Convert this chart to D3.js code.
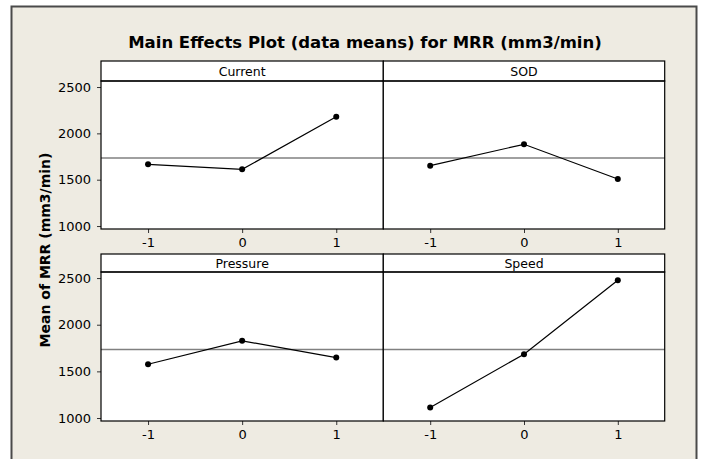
<!DOCTYPE html>
<html>
<head>
<meta charset="UTF-8">
<script src="https://cdn.jsdelivr.net/npm/d3@7"></script>
<style>
	body{ margin: 0; background: #fff; }
	svg{ display: block; }
	text{ font-family: "DejaVu Sans", Verdana, sans-serif; fill: #000; }
</style>
</head>
<body>
<svg id="chart" width="702" height="459"></svg>
<script>
	// Data
	var levels = [-1, 0, 1];
	var factors = ["Current", "SOD", "Pressure", "Speed"];
	var current = [1666, 1612, 2180];
	var sod = [1651, 1882, 1508];
	var pressure = [1576, 1827, 1648];
	var speed = [1113, 1684, 2476];
	var grandMean = 1735;
	var yTicks = [1000, 1500, 2000, 2500];
	var title = "Main Effects Plot (data means) for MRR (mm3/min)";
	var yLabel = "Mean of MRR (mm3/min)";

	var means = [current, sod, pressure, speed];

	// Panel geometry
	var cols = [[101, 383.3], [383.3, 664.7]];
	var rows = [
		{head: 61, top: 81, bottom: 229},
		{head: 254, top: 272, bottom: 421}
	];

	var svg = d3.select("#chart");

	// Background frame
	svg.append("rect")
		.attr("x", 11.5).attr("y", 6.5)
		.attr("width", 685).attr("height", 470)
		.attr("fill", "rgb(238,235,226)")
		.attr("stroke", "#4a4a4a")
		.attr("stroke-width", 2);

	// Title
	svg.append("text")
		.attr("x", 365).attr("y", 48)
		.attr("text-anchor", "middle")
		.attr("font-weight", "bold")
		.attr("font-size", "16.5px")
		.text(title);

	// Y axis label
	svg.append("text")
		.attr("transform", "translate(50,250) rotate(-90)")
		.attr("text-anchor", "middle")
		.attr("font-weight", "bold")
		.attr("font-size", "14px")
		.text(yLabel);

	factors.forEach(function(name, i){
		var r = rows[Math.floor(i / 2)];
		var c = cols[i % 2];

		var x = d3.scaleLinear().domain([-1.5, 1.5]).range(c);
		var y = d3.scaleLinear().domain([968, 2565]).range([r.bottom, r.top]);

		var g = svg.append("g");

		// plot area
		g.append("rect")
			.attr("x", c[0]).attr("y", r.top)
			.attr("width", c[1] - c[0]).attr("height", r.bottom - r.top)
			.attr("fill", "#fff");

		// header strip
		g.append("rect")
			.attr("x", c[0]).attr("y", r.head)
			.attr("width", c[1] - c[0]).attr("height", r.top - r.head)
			.attr("fill", "#fff")
			.attr("stroke", "#000")
			.attr("stroke-width", 1.2);

		g.append("text")
			.attr("x", (c[0] + c[1]) / 2)
			.attr("y", (r.head + r.top) / 2)
			.attr("dy", "0.36em")
			.attr("text-anchor", "middle")
			.attr("font-size", "12.5px")
			.text(name);

		// grand mean reference line
		g.append("line")
			.attr("x1", c[0]).attr("x2", c[1])
			.attr("y1", y(grandMean)).attr("y2", y(grandMean))
			.attr("stroke", "#808080")
			.attr("stroke-width", 1.5);

		// x axis
		var xAxis = g.append("g")
			.attr("transform", "translate(0," + r.bottom + ")")
			.call(d3.axisBottom(x).tickValues(levels).tickSize(4).tickPadding(5)
				.tickFormat(function(d){ return String(d); }));
		xAxis.select(".domain").remove();
		xAxis.selectAll("text").attr("font-size", "13px").attr("font-family", null);
		xAxis.selectAll("line").attr("stroke", "#333");

		// y axis on left column only
		if(i % 2 == 0){
			var yAxis = g.append("g")
				.attr("transform", "translate(" + c[0] + ",0)")
				.call(d3.axisLeft(y).tickValues(yTicks).tickSize(4).tickPadding(6)
					.tickFormat(function(d){ return String(d); }));
			yAxis.select(".domain").remove();
			yAxis.selectAll("text").attr("font-size", "13px").attr("font-family", null);
			yAxis.selectAll("line").attr("stroke", "#333");
		}

		// plot border
		g.append("rect")
			.attr("x", c[0]).attr("y", r.top)
			.attr("width", c[1] - c[0]).attr("height", r.bottom - r.top)
			.attr("fill", "none")
			.attr("stroke", "#000")
			.attr("stroke-width", 1.2);

		// means line and points
		var pts = levels.map(function(l, j){ return [l, means[i][j]]; });
		g.append("path")
			.datum(pts)
			.attr("fill", "none")
			.attr("stroke", "#000")
			.attr("stroke-width", 1.2)
			.attr("d", d3.line().x(function(d){ return x(d[0]); }).y(function(d){ return y(d[1]); }));

		g.selectAll("circle")
			.data(pts).enter()
			.append("circle")
			.attr("cx", function(d){ return x(d[0]); })
			.attr("cy", function(d){ return y(d[1]); })
			.attr("r", 3)
			.attr("fill", "#000");
	});
</script>
</body>
</html>
